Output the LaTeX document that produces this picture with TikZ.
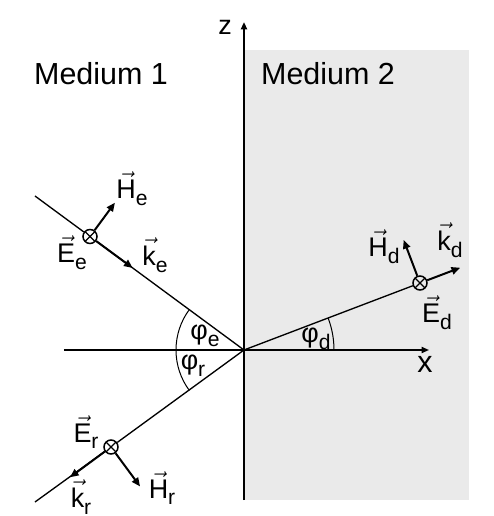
\documentclass[tikz,border=0pt]{standalone}
\usepackage{amsmath}
\usepackage{fontspec}
\setmainfont{Liberation Sans}
\usetikzlibrary{arrows.meta,calc}
\definecolor{mediumgrey}{HTML}{EAEAEA}
\newcommand{\feld}[2]{$\vec{\mbox{#1}}$\raisebox{-0.25em}{\fontsize{18}{20}\selectfont #2}}
\newcommand{\winkel}[1]{φ\raisebox{-0.25em}{\fontsize{18}{20}\selectfont #1}}

\begin{document}
\begin{tikzpicture}[x=0.3mm,y=0.3mm,
  ray/.style={line width=0.4mm},
  field/.style={line width=0.6mm,-{Triangle[length=2.6mm,width=2.2mm]}},
  axis/.style={line width=0.6mm,-{Triangle[length=2.2mm,width=1.8mm]}},
  ortho/.style={circle,draw,line width=0.45mm,minimum size=4.2mm,inner sep=0pt,
    path picture={\draw[line width=0.4mm]
      (path picture bounding box.north west)--(path picture bounding box.south east)
      (path picture bounding box.north east)--(path picture bounding box.south west);}},
  lab/.style={font=\fontsize{23}{27}\selectfont,inner sep=0pt},
  medlab/.style={font=\fontsize{26}{30}\selectfont,inner sep=0pt}]
\useasboundingbox (-244,-166) rectangle (250,350);
\fill[mediumgrey] (0,-150) rectangle (225,300);
%% axes
\coordinate (O) at (0,0);
\coordinate (zbot) at (0,-150);
\coordinate (ztop) at (0,328);
\coordinate (xleft) at (-180,0);
\coordinate (xright) at (185,0);
\draw[axis] (zbot) -- (ztop);
\draw[axis,line width=0.5mm] (xleft) -- (xright);
\node[lab] (zlab) at (-19,323) {z};
\node[medlab] (xlab) at (181,-14) {x};
\node[medlab] (m1) at (-143,276) {Medium 1};
\node[medlab] (m2) at (84,276) {Medium 2};
%% rays
\coordinate (ein) at (-209,154);
\coordinate (rout) at (-209,-152);
\node[ortho] (ee) at (-154,113.5) {};
\node[ortho] (er) at (-133,-97) {};
\node[ortho] (ed) at (176,67) {};
\draw[ray] (ein) -- (ee) -- (O);
\draw[ray] (O) -- (er) -- (rout);
\draw[ray] (O) -- (ed);
%% field vectors
\coordinate (ke) at ($(ee)+(-36.4:53)$);
\coordinate (he) at ($(ee)+(53.6:42)$);
\coordinate (kr) at ($(er)+(216.4:51)$);
\coordinate (hr) at ($(er)+(-53.6:49)$);
\coordinate (kd) at ($(ed)+(20.8:43)$);
\coordinate (hd) at ($(ed)+(110.8:46)$);
\draw[field] (ee) -- (ke);
\draw[field] (ee) -- (he);
\draw[field] (er) -- (kr);
\draw[field] (er) -- (hr);
\draw[field] (ed) -- (kd);
\draw[field] (ed) -- (hd);
\node[lab] (Ee) at (-172,97) {\feld{E}{e}};
\node[lab] (He) at (-112,161) {\feld{H}{e}};
\node[lab] (Ke) at (-89,95) {\feld{k}{e}};
\node[lab] (Er) at (-158,-82) {\feld{E}{r}};
\node[lab] (Kr) at (-163,-147) {\feld{k}{r}};
\node[lab] (Hr) at (-82,-138) {\feld{H}{r}};
\node[lab] (Hd) at (140,103) {\feld{H}{d}};
\node[lab] (Kd) at (206,110) {\feld{k}{d}};
\node[lab] (Ed) at (193,37) {\feld{E}{d}};
%% angles
\draw[line width=0.3mm] (O) ++(180:68) arc[start angle=180,end angle=143.6,radius=68];
\draw[line width=0.3mm] (O) ++(180:68) arc[start angle=180,end angle=216.4,radius=68];
\draw[line width=0.3mm] (O) ++(0:90) arc[start angle=0,end angle=20.8,radius=90];
\node[lab] (pe) at (-39,14) {\winkel{e}};
\node[lab] (pr) at (-51,-16) {\winkel{r}};
\node[lab] (pd) at (72,11) {\winkel{d}};
\end{tikzpicture}
\end{document}
